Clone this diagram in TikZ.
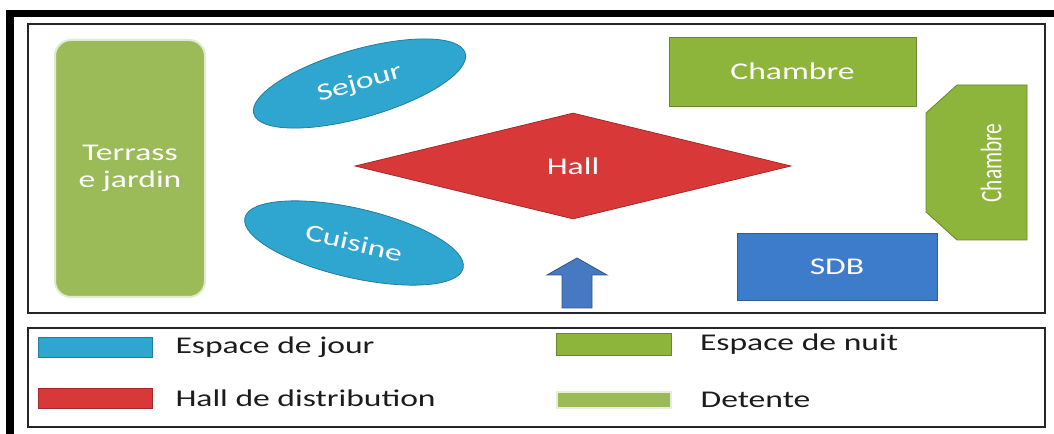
\documentclass[tikz,border=0pt]{standalone}
\usepackage{fontspec}
\setmainfont{Carlito}[FakeStretch=1.4]
\newfontfamily\plainfont{Carlito}
\usetikzlibrary{shapes.geometric,positioning}
\definecolor{jourblue}{HTML}{2FA6D0}
\definecolor{nuitgreen}{HTML}{8DB43B}
\definecolor{detolive}{HTML}{9BBB59}
\definecolor{hallred}{HTML}{D93838}
\definecolor{sdbblue}{HTML}{3D7BCB}
\definecolor{arrowblue}{HTML}{4679C2}
\definecolor{legtxt}{HTML}{1C1C1C}

\begin{document}
\begin{tikzpicture}[x=0.75pt,y=-0.75pt,
  room/.style    ={draw=#1!75!black, fill=#1, line width=0.6pt, text=white, inner sep=0pt, font=\fontsize{18}{20}\selectfont},
  blob/.style    ={room=jourblue, ellipse},
  swatch/.style  ={rectangle, draw=#1!75!black, fill=#1, line width=0.6pt, inner sep=0pt, minimum width=86pt},
  legtext/.style ={font=\fontsize{18}{20}\selectfont, text=legtxt, inner sep=0pt, anchor=west},
  frame/.style   ={draw=black!85, line width=1.5pt},
]
\useasboundingbox (0,0) rectangle (1054,434);
% black border of the screenshot (top and left only)
\fill[black] (6,10) rectangle (1054,17);
\fill[black] (6,10) rectangle (14,434);

\draw[frame] (28,24) rectangle (1045,313);
\draw[frame] (28,328) rectangle (1045,427);

% plan
\node[room=detolive, draw=detolive!30!white, line width=1.5pt, rounded corners=12pt,
      minimum width=112.5pt, minimum height=192.75pt, align=center] (terrasse) at (130,168.5) {Terrass\\e jardin};
\node[blob, rotate=16, minimum width=165pt, minimum height=51pt] (sejour) at (359.5,83.5) {Sejour};
\node[blob, rotate=-13, minimum width=168pt, minimum height=52pt] (cuisine) at (354,243) {Cuisine};
\node[room=hallred, diamond, minimum width=327pt, minimum height=79.5pt] (hall) at (573,166) {Hall};
\node[room=nuitgreen, minimum width=185.25pt, minimum height=51.75pt] (chambre) at (792.5,71.5) {Chambre};
\node[room=sdbblue, minimum width=150pt, minimum height=50.25pt] (sdb) at (837,266.5) {SDB};

\filldraw[fill=nuitgreen, draw=nuitgreen!75!black, line width=0.6pt]
  (926,113) -- (957,85) -- (1027,85) -- (1027,240) -- (957,240) -- (926,212) -- cycle;
\node[text=white, font=\plainfont\fontsize{16}{18}\selectfont, rotate=90, inner sep=0pt] (chambre2) at (991,163) {\scalebox{1}[1.4]{Chambre}};

% entrance
\filldraw[fill=arrowblue, draw=arrowblue!70!black, line width=0.6pt]
  (562,308) -- (562,275) -- (547,275) -- (577,258) -- (607,275) -- (592,275) -- (592,308) -- cycle;

% legend
\node[swatch=jourblue, minimum height=15pt] (swJour) at (95.5,347) {};
\node[legtext, right=16.5pt of swJour] (lbJour) {Espace de jour};
\node[swatch=hallred, minimum height=15pt] (swHall) at (95.5,398) {};
\node[legtext, right=16.5pt of swHall] (lbHall) {Hall de distribution};
\node[swatch=nuitgreen, minimum height=16.5pt] (swNuit) at (614,344) {};
\node[legtext, right=21pt of swNuit] (lbNuit) {Espace de nuit};
\node[swatch=detolive, draw=detolive!25!white, line width=1.5pt, minimum height=12pt] (swDet) at (614,400) {};
\node[legtext, right=21pt of swDet] (lbDet) {Detente};
\end{tikzpicture}
\end{document}
